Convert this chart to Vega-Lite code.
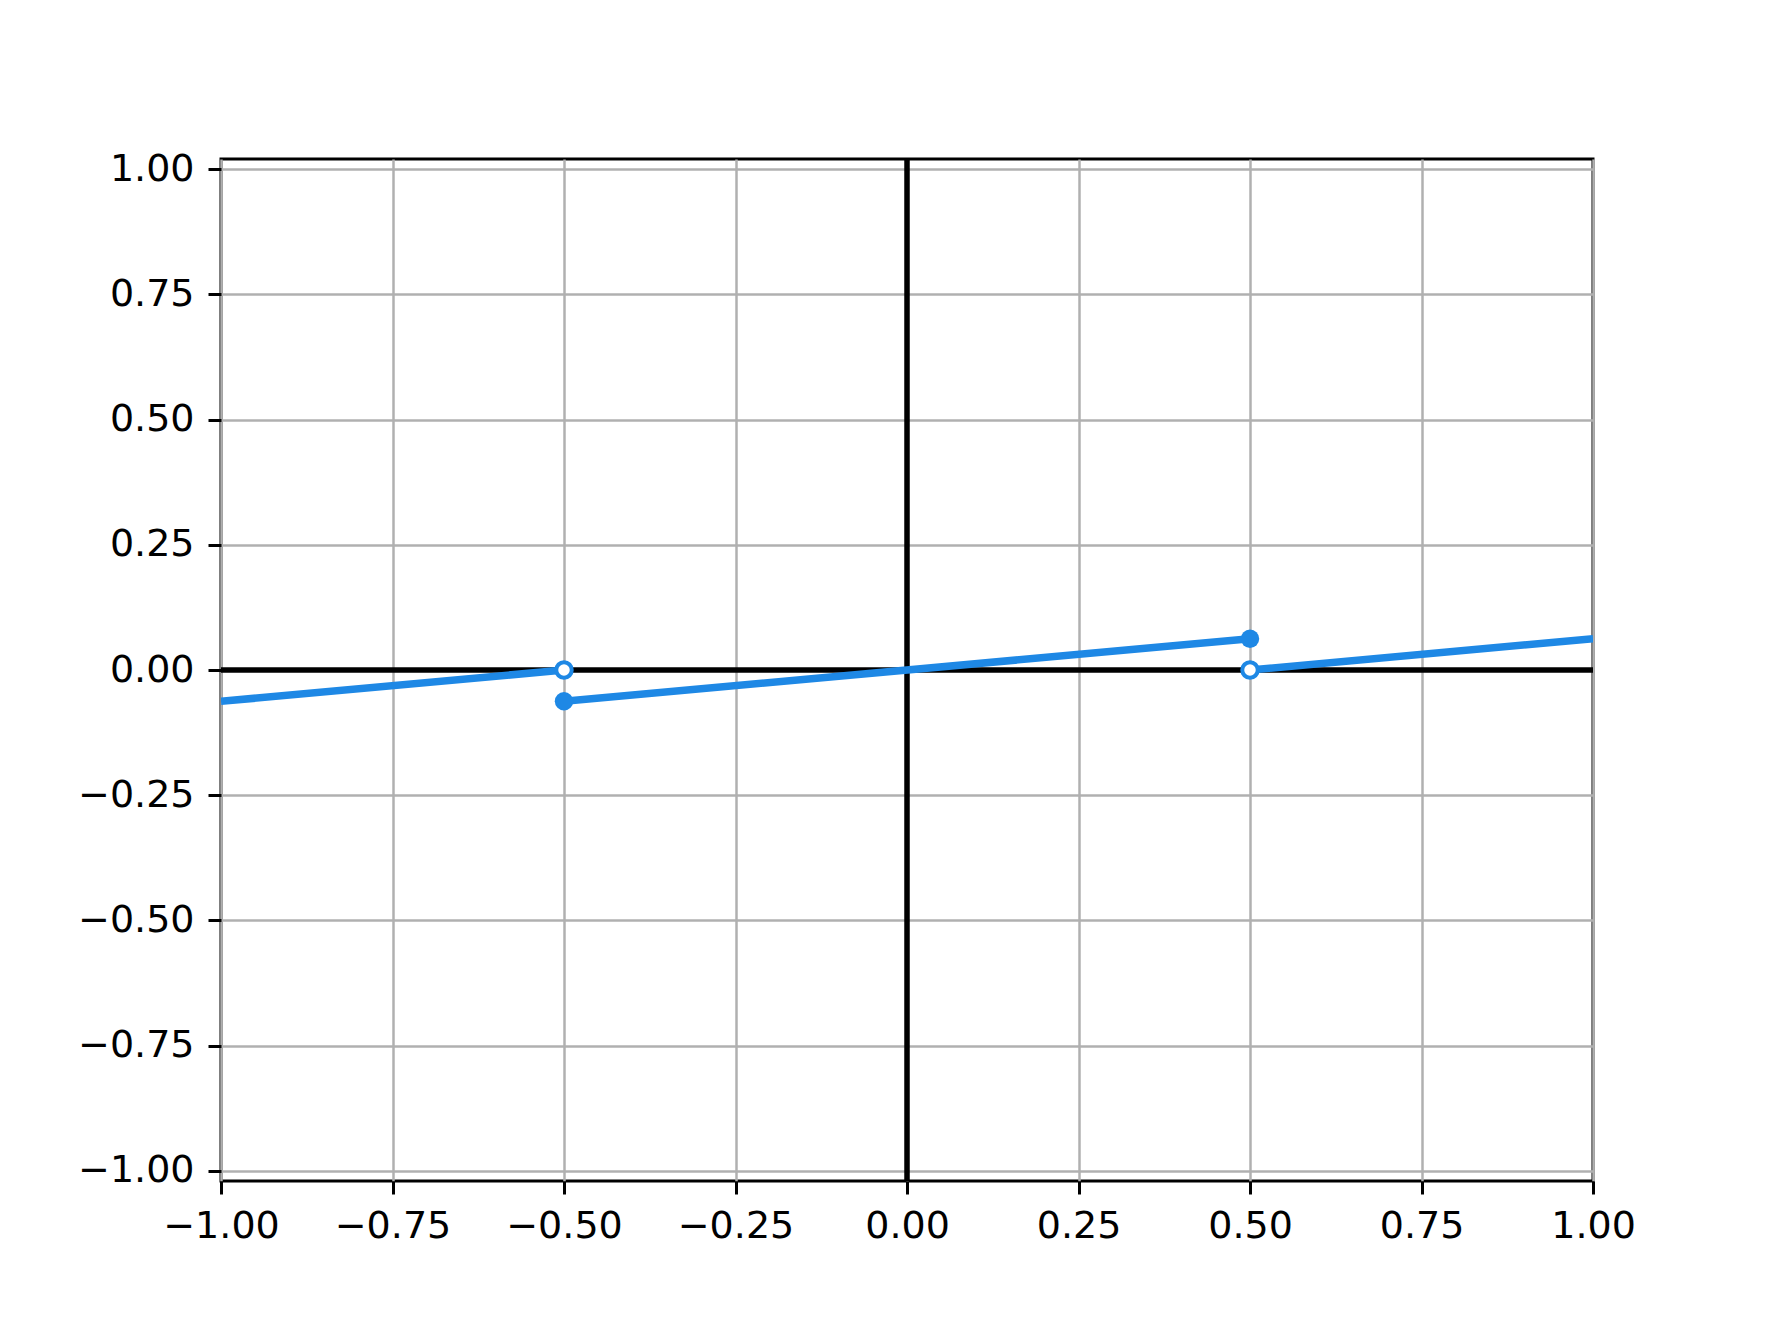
{
  "$schema": "https://vega.github.io/schema/vega-lite/v6.json",
  "width": 1372,
  "height": 1022,
  "autosize": {"type": "none"},
  "padding": {"left": 221, "top": 159, "right": 178, "bottom": 147},
  "background": "white",
  "config": {
    "view": {"stroke": "black", "strokeWidth": 3},
    "axis": {
      "domain": false,
      "grid": true,
      "gridColor": "#b0b0b0",
      "gridWidth": 2.5,
      "tickColor": "black",
      "tickWidth": 3,
      "tickSize": 13,
      "labelFont": "DejaVu Sans",
      "labelFontSize": 38,
      "labelColor": "black",
      "labelOverlap": false,
      "labelFlush": false,
      "labelBound": false,
      "title": null
    }
  },
  "datasets": {
    "segments": [
      {"seg": "A", "x": -1.0, "y": -0.0625},
      {"seg": "A", "x": -0.5, "y": 0.0},
      {"seg": "B", "x": -0.5, "y": -0.0625},
      {"seg": "B", "x": 0.5, "y": 0.0625},
      {"seg": "C", "x": 0.5, "y": 0.0},
      {"seg": "C", "x": 1.0, "y": 0.0625}
    ],
    "filled": [
      {"x": -0.5, "y": -0.0625},
      {"x": 0.5, "y": 0.0625}
    ],
    "open": [
      {"x": -0.5, "y": 0.0},
      {"x": 0.5, "y": 0.0}
    ],
    "zero": [{"v": 0}]
  },
  "layer": [
    {
      "data": {"name": "zero"},
      "mark": {"type": "rule", "color": "black", "strokeWidth": 5.5},
      "encoding": {
        "x": {"field": "v", "type": "quantitative", "scale": {"domain": [-1, 1], "nice": false, "zero": false},
          "axis": {"values": [-1, -0.75, -0.5, -0.25, 0, 0.25, 0.5, 0.75, 1], "format": ".2f", "labelPadding": 13}}
      }
    },
    {
      "data": {"name": "zero"},
      "mark": {"type": "rule", "color": "black", "strokeWidth": 5.5},
      "encoding": {
        "y": {"field": "v", "type": "quantitative", "scale": {"domain": [-1.02, 1.02], "nice": false, "zero": false},
          "axis": {"values": [-1, -0.75, -0.5, -0.25, 0, 0.25, 0.5, 0.75, 1], "format": ".2f", "labelPadding": 14}}
      }
    },
    {
      "data": {"name": "segments"},
      "mark": {"type": "line", "color": "#1E88E5", "strokeWidth": 7.5, "clip": true},
      "encoding": {
        "x": {"field": "x", "type": "quantitative"},
        "y": {"field": "y", "type": "quantitative"},
        "detail": {"field": "seg"}
      }
    },
    {
      "data": {"name": "filled"},
      "mark": {"type": "point", "shape": "circle", "filled": true, "color": "#1E88E5", "size": 340, "opacity": 1},
      "encoding": {
        "x": {"field": "x", "type": "quantitative"},
        "y": {"field": "y", "type": "quantitative"}
      }
    },
    {
      "data": {"name": "open"},
      "mark": {"type": "point", "shape": "circle", "filled": true, "fill": "white", "stroke": "#1E88E5", "strokeWidth": 4, "size": 240, "opacity": 1},
      "encoding": {
        "x": {"field": "x", "type": "quantitative"},
        "y": {"field": "y", "type": "quantitative"}
      }
    }
  ]
}
